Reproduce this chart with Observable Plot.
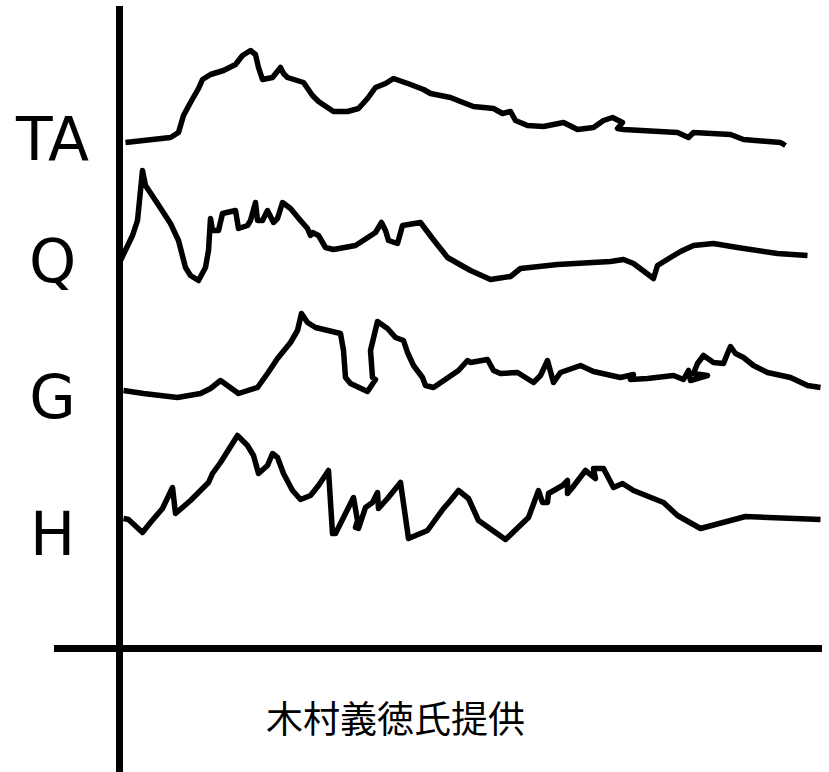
<!DOCTYPE html>
<html>
<head>
<meta charset="utf-8">
<script src="https://cdn.jsdelivr.net/npm/d3@7"></script>
<script src="https://cdn.jsdelivr.net/npm/@observablehq/plot@0.6"></script>
<style>
  html, body { margin: 0; padding: 0; background: #fff; }
  #chart svg { display: block; }
</style>
</head>
<body>
<div id="chart"></div>
<script>
// Series: [time, value] (arbitrary units; x from the vertical axis, y above the base line)
const seriesNames = ["TA", "Q", "G", "H"];

const TA = [[6,506],[51,511],[59,516],[64,533],[71,546],[79,560],[83,569],[91,574],[104,578],[116,584],[123,593],[131,598],[136,594],[139,581],[143,569],[153,571],[157,576],[161,581],[164,575],[168,571],[184,566],[193,553],[199,547],[214,537],[228,537],[239,540],[248,550],[256,561],[266,565],[274,570],[291,564],[304,559],[311,555],[331,551],[341,547],[354,542],[374,540],[383,535],[391,537],[396,528],[408,523],[424,522],[444,526],[458,519],[474,521],[484,528],[493,531],[503,526],[498,520],[504,519],[558,516],[569,511],[574,516],[611,514],[624,509],[661,506],[666,503]];

const Q = [[1,388],[13,413],[18,428],[23,478],[26,463],[38,445],[51,425],[59,408],[66,381],[71,373],[79,368],[86,381],[89,398],[91,430],[93,418],[99,418],[103,435],[116,438],[119,420],[128,423],[131,428],[136,446],[138,428],[143,428],[148,438],[154,426],[158,430],[163,446],[171,440],[181,428],[188,420],[191,413],[193,416],[199,413],[206,401],[214,399],[236,403],[256,416],[262,426],[266,418],[269,408],[278,405],[283,423],[301,426],[313,410],[328,391],[351,378],[371,369],[391,372],[401,380],[438,384],[491,387],[504,389],[514,385],[534,370],[538,383],[551,391],[561,397],[574,403],[594,405],[618,401],[658,395],[688,393]];

const G = [[4,258],[24,255],[58,251],[81,255],[91,260],[101,268],[119,255],[138,261],[148,275],[158,290],[171,306],[178,318],[182,335],[188,326],[196,321],[221,315],[224,298],[226,271],[231,265],[248,257],[256,269],[253,271],[251,298],[258,327],[268,320],[276,311],[284,308],[288,296],[294,283],[303,271],[306,263],[314,261],[339,278],[348,288],[351,286],[368,289],[374,278],[381,275],[398,276],[414,266],[421,273],[428,288],[434,266],[441,276],[461,283],[474,277],[501,271],[514,274],[511,269],[528,270],[554,273],[564,269],[569,278],[571,268],[588,273],[574,275],[578,285],[584,293],[594,286],[604,285],[608,295],[611,302],[616,295],[624,291],[634,283],[648,276],[671,271],[688,263],[701,261]];

const H = [[4,130],[9,129],[23,116],[31,126],[43,140],[53,161],[56,135],[71,148],[89,166],[93,175],[101,186],[118,213],[128,203],[134,193],[139,175],[148,183],[153,195],[158,191],[164,175],[173,158],[181,149],[191,153],[199,163],[209,178],[213,115],[216,115],[226,135],[234,151],[238,128],[236,121],[239,120],[246,141],[253,146],[258,156],[259,140],[268,150],[281,166],[289,110],[308,118],[324,140],[331,148],[339,158],[349,150],[359,128],[386,109],[409,131],[419,158],[423,146],[428,146],[429,155],[443,163],[448,168],[448,155],[453,161],[466,178],[476,170],[474,180],[484,180],[494,161],[503,165],[514,158],[544,146],[558,133],[581,120],[626,132],[701,129]];

// Label levels (value units) for the series names
const labelLevels = [510, 388, 252, 115];
const caption = "木村義徳氏提供";

const seriesData = [TA, Q, G, H];
const rows = seriesData.flatMap((arr, i) =>
  arr.map(([t, v], j) => ({series: seriesNames[i], t, v, order: j})));
const labels = seriesNames.map((name, i) => ({name, level: labelLevels[i]}));

const chart = Plot.plot({
  width: 829,
  height: 772,
  margin: 0,
  x: {domain: [-119, 710], axis: null},
  y: {domain: [-124, 648], axis: null},
  style: {background: "#fff"},
  marks: [
    Plot.ruleX([0], {y1: -124, y2: 642, stroke: "#000", strokeWidth: 7}),
    Plot.ruleY([0], {x1: -65, x2: 703, stroke: "#000", strokeWidth: 7}),
    Plot.line(rows, {
      x: "t", y: "v", z: "series",
      stroke: "#000", strokeWidth: 5.5,
      strokeLinejoin: "round", strokeLinecap: "butt",
      curve: "linear"
    }),
    Plot.text(labels, {
      x: -67, y: "level", text: "name",
      fontSize: 60, fontFamily: "DejaVu Sans", fill: "#000",
      textAnchor: "middle", dy: 2
    }),
    Plot.text([caption], {
      x: 276, y: -73, text: d => d,
      fontSize: 37, fontFamily: "Noto Sans CJK JP", fill: "#000",
      textAnchor: "middle"
    })
  ]
});
document.getElementById("chart").appendChild(chart);
</script>
</body>
</html>
